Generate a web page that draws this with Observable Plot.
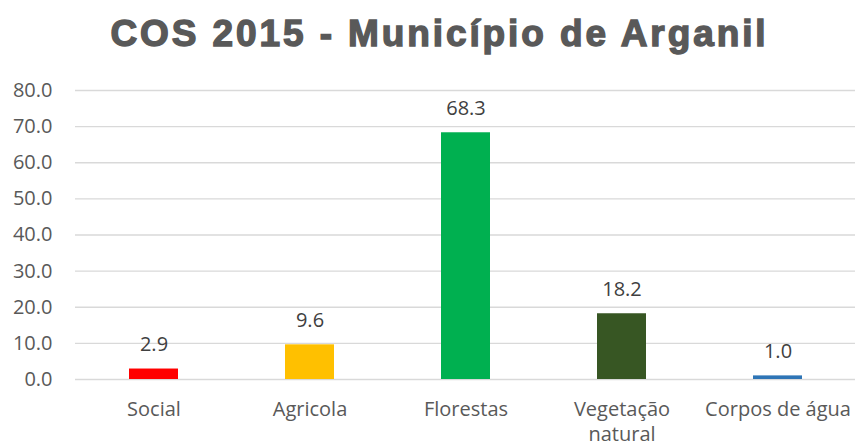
<!DOCTYPE html>
<html>
<head>
<meta charset="utf-8">
<script src="https://cdn.jsdelivr.net/npm/d3@7"></script>
<script src="https://cdn.jsdelivr.net/npm/@observablehq/plot@0.6"></script>
<style>
  html, body { margin: 0; padding: 0; background: #fff; }
  #wrap { width: 855px; }
  #title {
    height: 75px; box-sizing: border-box; padding-top: 12px; padding-left: 24px;
    text-align: center; font-family: "Liberation Sans", Arial, sans-serif;
    font-weight: 700; font-size: 37px; color: #595959; line-height: 44px;
    -webkit-text-stroke: 1.4px #595959; letter-spacing: 2.9px;
    white-space: nowrap;
  }
  svg { display: block; }
</style>
</head>
<body>
<div id="wrap">
  <div id="title">COS 2015 - Município de Arganil</div>
  <div id="chart"></div>
</div>
<script>
const categories = ["Social", "Agricola", "Florestas", "Vegetação natural", "Corpos de água"];
const values = [2.9, 9.6, 68.3, 18.2, 1.0];
const colors = ["#FF0000", "#FFC000", "#00B050", "#375623", "#2E75B6"];
const tickLabels = ["Social", "Agricola", "Florestas", "Vegetação\nnatural", "Corpos de água"];
const yTicks = [0, 10, 20, 30, 40, 50, 60, 70, 80];

const data = categories.map((c, i) => ({category: c, value: values[i], color: colors[i]}));
const labelOf = new Map(categories.map((c, i) => [c, tickLabels[i]]));

const font = "'Open Sans', 'Noto Sans', sans-serif";

const chart = Plot.plot({
  width: 855,
  height: 372,
  marginLeft: 75,
  marginRight: 0,
  marginTop: 15,
  marginBottom: 68,
  style: {fontFamily: font, fontSize: "20px", background: "#fff"},
  x: {domain: categories, paddingInner: 0.686, paddingOuter: 0.343, align: 0.5, label: null},
  y: {domain: [0, 80], label: null},
  marks: [
    Plot.ruleY(yTicks, {stroke: "#d9d9d9", strokeWidth: 1.4}),
    Plot.barY(data, {x: "category", y: "value", fill: "color"}),
    Plot.text(data, {x: "category", y: "value", text: d => d3.format(".1f")(d.value),
      dy: -18, lineAnchor: "bottom", fontSize: 20, fill: "#404040", fontFamily: font}),
    Plot.axisY({ticks: yTicks, tickFormat: d3.format(".1f"), tickSize: 0, tickPadding: 23,
      fontSize: 20, fill: "#595959", label: null}),
    Plot.axisX({tickSize: 0, tickPadding: 19, tickFormat: d => labelOf.get(d),
      fontSize: 20, fill: "#595959", lineHeight: 1.25, label: null})
  ]
});
document.getElementById("chart").appendChild(chart);
</script>
</body>
</html>
